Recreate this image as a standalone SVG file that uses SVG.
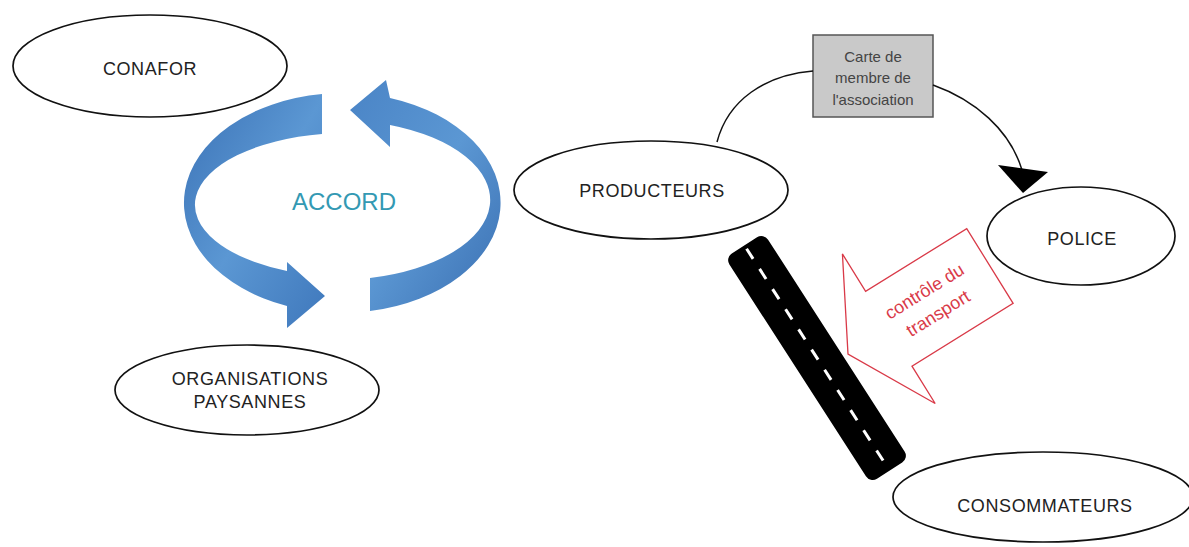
<svg xmlns="http://www.w3.org/2000/svg" width="1189" height="547" viewBox="0 0 1189 547">
<defs>
<linearGradient id="blueL" x1="0" y1="0" x2="1" y2="1">
<stop offset="0" stop-color="#3b72b6"/>
<stop offset="0.5" stop-color="#5b97d3"/>
<stop offset="1" stop-color="#3f78bc"/>
</linearGradient>
<linearGradient id="blueR" x1="1" y1="1" x2="0" y2="0">
<stop offset="0" stop-color="#3a6fb2"/>
<stop offset="0.5" stop-color="#5b97d3"/>
<stop offset="1" stop-color="#4a84c6"/>
</linearGradient>
</defs>
<style>
.node{fill:#fff;stroke:#111;stroke-width:1.7}
.lbl{font-family:"Liberation Sans",Arial,sans-serif;font-size:18px;fill:#222;text-anchor:middle;letter-spacing:0.6px}
.conn{fill:none;stroke:#111;stroke-width:1.5}
.card{font-family:"Liberation Sans",Arial,sans-serif;font-size:15px;fill:#444;text-anchor:middle}
.red{font-family:"Liberation Sans",Arial,sans-serif;font-size:18px;fill:#d93a48;text-anchor:middle}
</style>
<rect width="1189" height="547" fill="#fff"/>

<g id="cycle">
<path d="M322,94 A159,110 0 0 0 287,306 L287,328 L325,296 L287,262 L287,271 A153,72 0 0 1 322,134 Z" fill="url(#blueL)"/>
<path d="M370,311 A159,110 0 0 0 390,98 L386,80 L350,110 L390,147 L390,125 A154,80 0 0 1 370,278 Z" fill="url(#blueR)"/>
<text x="344" y="210" font-family="'Liberation Sans',Arial,sans-serif" font-size="24" fill="#3399b3" text-anchor="middle">ACCORD</text>
</g>

<g id="conafor">
<ellipse class="node" cx="150" cy="66" rx="137" ry="51"/>
<text class="lbl" x="150" y="75">CONAFOR</text>
</g>

<g id="organisations">
<ellipse class="node" cx="247" cy="390" rx="132" ry="45"/>
<text class="lbl" x="250" y="385">ORGANISATIONS</text>
<text class="lbl" x="250" y="408">PAYSANNES</text>
</g>

<g id="producteurs">
<ellipse class="node" cx="651" cy="190" rx="137" ry="49"/>
<text class="lbl" x="652" y="197">PRODUCTEURS</text>
</g>

<g id="police">
<ellipse class="node" cx="1081" cy="236" rx="94" ry="49"/>
<text class="lbl" x="1082" y="245">POLICE</text>
</g>

<g id="consommateurs">
<ellipse class="node" cx="1043" cy="497" rx="150" ry="45"/>
<text class="lbl" x="1045" y="512">CONSOMMATEURS</text>
</g>

<g id="carte">
<rect x="813" y="35" width="120" height="82" fill="#c9c9c9" stroke="#555" stroke-width="1.5"/>
<text class="card" x="873" y="62">Carte de</text>
<text class="card" x="873" y="83">membre de</text>
<text class="card" x="873" y="105">l'association</text>
</g>

<g id="road">
<g transform="translate(817,358) rotate(57.2)">
<rect x="-134" y="-23" width="268" height="46" rx="8" fill="#000"/>
<line x1="-130" y1="0" x2="130" y2="0" stroke="#fff" stroke-width="3" stroke-dasharray="12 12"/>
</g>
</g>

<g id="controle">
<g transform="translate(848,354) rotate(-31.8)">
<polygon points="0,0 48,-88 48,-44 167,-44 167,44 48,44 48,88" fill="#fff" stroke="#d93a48" stroke-width="1.3" stroke-linejoin="miter"/>
<text class="red" x="98" y="-7">contrôle du</text>
<text class="red" x="98" y="19">transport</text>
</g>
</g>

<g id="connectors">
<path class="conn" d="M717,142 C728,100 765,75 813,71"/>
<path class="conn" d="M933,85 C975,100 1010,130 1022,170"/>
<polygon points="998,165 1048,172 1023,193" fill="#000"/>
</g>
</svg>
